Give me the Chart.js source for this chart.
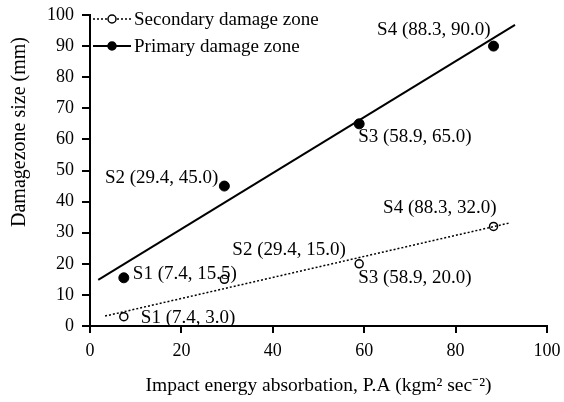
<!DOCTYPE html>
<html>
<head>
<meta charset="utf-8">
<script src="https://cdn.jsdelivr.net/npm/chart.js@4.4.1/dist/chart.umd.min.js"></script>
<style>
  html, body { margin: 0; background: #fff; }
  #wrap { width: 564px; height: 402px; }
</style>
</head>
<body>
<div id="wrap"><canvas id="chart"></canvas></div>
<script>
// values
const sampleNames = ['S1', 'S2', 'S3', 'S4'];
const energy = [7.4, 29.4, 58.9, 88.3];
const primarySize = [15.5, 45.0, 65.0, 90.0];
const secondarySize = [3.0, 15.0, 20.0, 32.0];

// trend line ends, as drawn in the figure
const primaryTrendX = [1.8, 93.0];
const primaryTrendY = [14.8, 96.8];
const secondaryTrendX = [3.3, 92.0];
const secondaryTrendY = [3.2, 33.2];

// where each label sits next to its point (px offset, align)
const primaryLabelPos = [[9, -4, 'left'], [-6, -8, 'right'], [-1, 13, 'left'], [-3, -16, 'right']];
const secondaryLabelPos = [[17, 1, 'left'], [8, -29, 'left'], [-1, 14, 'left'], [3, -18, 'right']];

const serif = '"Liberation Serif", "Times New Roman", serif';
const yTitle = 'Damagezone size (mm)';

function pts(xs, ys) {
  return xs.map((x, i) => ({ x: x, y: ys[i] }));
}

function fmt(v) {
  return v.toFixed(1);
}

const pointLabels = {
  id: 'pointLabels',
  afterDatasetsDraw(chart) {
    const ctx = chart.ctx;
    const xs = chart.scales.x, ys = chart.scales.y;
    ctx.save();
    ctx.font = '19px ' + serif;
    ctx.fillStyle = '#000';
    ctx.textBaseline = 'middle';
    const draw = (vals, place) => {
      vals.forEach((v, i) => {
        const px = xs.getPixelForValue(energy[i]);
        const py = ys.getPixelForValue(v);
        ctx.textAlign = place[i][2];
        ctx.fillText(sampleNames[i] + ' (' + fmt(energy[i]) + ', ' + fmt(v) + ')', px + place[i][0], py + place[i][1]);
      });
    };
    draw(primarySize, primaryLabelPos);
    draw(secondarySize, secondaryLabelPos);
    ctx.restore();
  }
};

// legend and the y title (the title sits above the middle of the axis)
const legendBox = {
  id: 'legendBox',
  afterDraw(chart) {
    const ctx = chart.ctx;
    const items = [
      { label: 'Secondary damage zone', y: 19, dash: [2, 2], width: 1.5, fill: '#fff' },
      { label: 'Primary damage zone', y: 46, dash: [], width: 2, fill: '#000' }
    ];
    ctx.save();
    items.forEach(it => {
      ctx.strokeStyle = '#000';
      ctx.lineWidth = it.width;
      ctx.setLineDash(it.dash);
      ctx.beginPath();
      ctx.moveTo(93, it.y);
      ctx.lineTo(131, it.y);
      ctx.stroke();
      ctx.setLineDash([]);
      ctx.beginPath();
      ctx.arc(112, it.y, 4, 0, Math.PI * 2);
      ctx.fillStyle = it.fill;
      ctx.fill();
      ctx.lineWidth = 1.5;
      ctx.stroke();
      ctx.fillStyle = '#000';
      ctx.font = '19px ' + serif;
      ctx.textAlign = 'left';
      ctx.textBaseline = 'middle';
      ctx.fillText(it.label, 134, it.y + 1);
    });

    ctx.translate(20, 132);
    ctx.rotate(-Math.PI / 2);
    ctx.font = '20px ' + serif;
    ctx.textAlign = 'center';
    ctx.fillText(yTitle, 0, 0);
    ctx.restore();
  }
};

new Chart(document.getElementById('chart'), {
  type: 'scatter',
  data: {
    datasets: [
      {
        label: 'Primary trend',
        data: pts(primaryTrendX, primaryTrendY),
        showLine: true,
        borderColor: '#000',
        borderWidth: 2,
        pointRadius: 0
      },
      {
        label: 'Secondary trend',
        data: pts(secondaryTrendX, secondaryTrendY),
        showLine: true,
        borderColor: '#000',
        borderWidth: 1.5,
        borderDash: [2, 2],
        pointRadius: 0
      },
      {
        label: 'Primary damage zone',
        data: pts(energy, primarySize),
        pointRadius: 5,
        pointBackgroundColor: '#000',
        pointBorderColor: '#000',
        pointBorderWidth: 1
      },
      {
        label: 'Secondary damage zone',
        data: pts(energy, secondarySize),
        pointRadius: 4,
        pointBackgroundColor: '#fff',
        pointBorderColor: '#000',
        pointBorderWidth: 1.5
      }
    ]
  },
  options: {
    responsive: true,
    maintainAspectRatio: false,
    animation: false,
    layout: { padding: { left: 0, right: 17, top: 15, bottom: 0 } },
    plugins: { legend: { display: false }, tooltip: { enabled: false } },
    scales: {
      x: {
        min: 0, max: 100,
        ticks: { stepSize: 20, color: '#000', font: { family: serif, size: 18 }, padding: 7, maxRotation: 0 },
        grid: { display: true, drawOnChartArea: false, drawTicks: true, tickLength: 7, color: '#000', lineWidth: 2 },
        border: { display: true, color: '#000', width: 2 },
        title: { display: true, text: 'Impact energy absorbation, P.A (kgm\u00B2 sec\u207B\u00B2)', color: '#000', font: { family: serif, size: 19.5 }, padding: { top: 0, bottom: 4 } },
        afterFit(scale) {
          scale.height = 76;
          scale.paddingLeft = 0;
          scale.paddingRight = 0;
        }
      },
      y: {
        min: 0, max: 100,
        ticks: { stepSize: 10, color: '#000', font: { family: serif, size: 18 }, padding: 8 },
        grid: { display: true, drawOnChartArea: false, drawTicks: true, tickLength: 8, color: '#000', lineWidth: 2 },
        border: { display: true, color: '#000', width: 2 },
        title: { display: false },
        afterFit(scale) {
          scale.width = 90;
          scale.paddingTop = 0;
          scale.paddingBottom = 0;
        }
      }
    }
  },
  plugins: [pointLabels, legendBox]
});
</script>
</body>
</html>
